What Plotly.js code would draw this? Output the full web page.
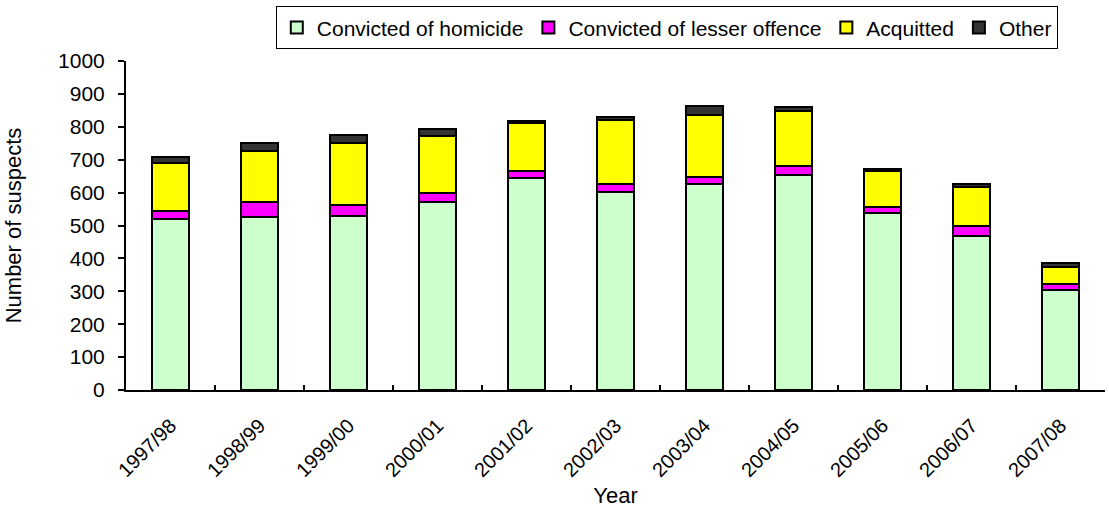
<!DOCTYPE html>
<html>
<head>
<meta charset="utf-8">
<script src="https://cdn.plot.ly/plotly-3.0.1.min.js"></script>
<style>
html,body{margin:0;padding:0;background:#fff;}
#chart{width:1109px;height:508px;}
</style>
</head>
<body>
<div id="chart"></div>
<script>
const years = ["1997/98","1998/99","1999/00","2000/01","2001/02","2002/03","2003/04","2004/05","2005/06","2006/07","2007/08"];
const homicide = [520, 525, 529, 572, 645, 603, 626, 653, 537, 468, 304];
const lesser   = [23, 45, 33, 27, 22, 24, 20, 28, 20, 32, 18];
const acquitted= [148, 156, 190, 173, 145, 194, 190, 168, 109, 118, 53];
const other    = [18, 24, 23, 21, 7, 10, 27, 11, 6, 7, 10];

const seriesNames = ["Convicted of homicide","Convicted of lesser offence","Acquitted","Other"];
const seriesValues = [homicide, lesser, acquitted, other];
const seriesColors = ["#CCFFCC","#FF00FF","#FFFF00","#333333"];

const FONT = "Liberation Sans, Arial, sans-serif";

const traces = seriesValues.map((vals, i) => ({
  type: "bar",
  name: seriesNames[i],
  x: years,
  y: vals,
  marker: {color: seriesColors[i], line: {color: "#000000", width: 2}},
  hoverinfo: "x+y+name"
}));

const layout = {
  width: 1109,
  height: 508,
  margin: {l: 126, r: 4, t: 61, b: 118},
  paper_bgcolor: "#ffffff",
  plot_bgcolor: "#ffffff",
  barmode: "stack",
  bargap: 0.585,
  font: {family: FONT, size: 20, color: "#000000"},
  showlegend: true,
  legend: {
    orientation: "h",
    x: 0.153, xanchor: "left",
    y: 1.166, yanchor: "top",
    bordercolor: "#000000",
    borderwidth: 1,
    font: {family: FONT, size: 21, color: "#000000"},
    traceorder: "normal",
    itemclick: false
  },
  xaxis: {
    type: "category",
    showline: true,
    linecolor: "#000000",
    linewidth: 2,
    ticks: "inside",
    tickson: "boundaries",
    ticklen: 5,
    tickwidth: 2,
    tickcolor: "#000000",
    tickangle: -45,
    tickfont: {family: FONT, size: 20},
    ticklabelstandoff: 14,
    showgrid: false,
    zeroline: false,
    title: {text: "Year", font: {family: FONT, size: 22}, standoff: 10}
  },
  yaxis: {
    range: [0, 1000],
    dtick: 100,
    showline: true,
    linecolor: "#000000",
    linewidth: 2,
    ticks: "outside",
    ticklen: 6,
    tickwidth: 2,
    tickcolor: "#000000",
    tickfont: {family: FONT, size: 21},
    ticklabelstandoff: 9,
    showgrid: false,
    zeroline: false,
    title: {text: "Number of suspects", font: {family: FONT, size: 22}, standoff: 30}
  }
};

Plotly.newPlot("chart", traces, layout, {displayModeBar: false});
</script>
</body>
</html>
